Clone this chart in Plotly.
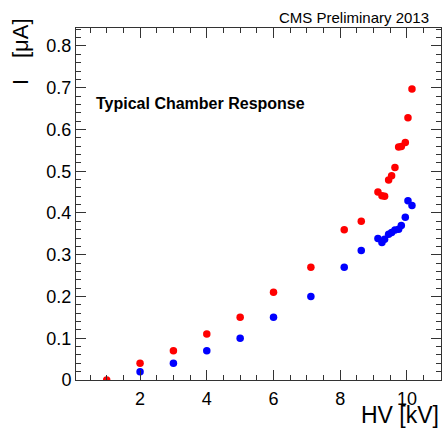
import plotly.graph_objects as go

# Data
hv_red = [1.0, 2.0, 3.0, 4.0, 5.0, 6.0, 7.12, 8.12, 8.63,
          9.13, 9.25, 9.33, 9.45, 9.54, 9.64, 9.75, 9.83, 9.95, 10.03, 10.15]
i_red = [0.0, 0.04, 0.07, 0.11, 0.15, 0.21, 0.27, 0.36, 0.38,
         0.45, 0.441, 0.44, 0.479, 0.489, 0.509, 0.558, 0.559, 0.569, 0.628, 0.697]

hv_blue = [2.0, 3.0, 4.0, 5.0, 6.0, 7.12, 8.12, 8.63,
           9.13, 9.25, 9.33, 9.45, 9.54, 9.64, 9.75, 9.83, 9.95, 10.03, 10.15]
i_blue = [0.02, 0.04, 0.07, 0.10, 0.15, 0.20, 0.27, 0.31,
          0.339, 0.329, 0.337, 0.349, 0.353, 0.359, 0.361, 0.370, 0.39, 0.429, 0.418]

W, H = 442, 428
L, R, T, B = 76, 1, 28, 48
PW, PH = W - L - R, H - T - B

def px(x):
    return (x - L) / PW

def py(y):
    return (H - B - y) / PH

FONT = "Liberation Sans, Arial, sans-serif"
AX = "#333333"

fig = go.Figure()
fig.add_trace(go.Scatter(x=hv_blue, y=i_blue, mode="markers",
                         marker=dict(color="#0000ff", size=7.5, line=dict(width=0)),
                         showlegend=False))
fig.add_trace(go.Scatter(x=hv_red, y=i_red, mode="markers",
                         marker=dict(color="#ff0000", size=7.5, line=dict(width=0)),
                         showlegend=False))

axis_common = dict(showgrid=False, zeroline=False, showline=True, linecolor=AX,
                   linewidth=1, ticks="inside", ticklen=10, tickwidth=1,
                   tickcolor=AX, mirror="allticks",
                   tickfont=dict(family=FONT, size=18, color="black"))

fig.update_xaxes(range=[0.08, 11.02], dtick=2, tick0=0, ticklabelstandoff=2,
                 minor=dict(ticks="inside", ticklen=5, dtick=0.5, tick0=0,
                            tickcolor=AX, tickwidth=1),
                 **axis_common)
fig.update_yaxes(range=[0, 0.843], dtick=0.1, tick0=0,
                 minor=dict(ticks="inside", ticklen=5, dtick=0.02, tick0=0,
                            tickcolor=AX, tickwidth=1),
                 **axis_common)

ann = []
ann.append(dict(text="CMS Preliminary 2013", xref="paper", yref="paper",
                x=px(431), y=py(17), xanchor="right", yanchor="middle",
                showarrow=False, font=dict(family=FONT, size=15, color="black")))
ann.append(dict(text="<b>Typical Chamber Response</b>", xref="paper", yref="paper",
                x=px(94), y=py(103.5), xanchor="left", yanchor="middle",
                showarrow=False, font=dict(family=FONT, size=16, color="black")))
ann.append(dict(text="HV [kV]", xref="paper", yref="paper",
                x=px(441), y=py(415), xanchor="right", yanchor="middle",
                showarrow=False, font=dict(family=FONT, size=23, color="black")))
ann.append(dict(text="I", xref="paper", yref="paper",
                x=px(20), y=py(82), xanchor="center", yanchor="middle",
                textangle=-90, showarrow=False,
                font=dict(family=FONT, size=22, color="black")))
ann.append(dict(text="[μA]", xref="paper", yref="paper",
                x=px(20), y=py(38), xanchor="center", yanchor="middle",
                textangle=-90, showarrow=False,
                font=dict(family=FONT, size=22, color="black")))

fig.update_layout(width=W, height=H, margin=dict(l=L, r=R, t=T, b=B, pad=0),
                  paper_bgcolor="white", plot_bgcolor="white",
                  annotations=ann, font=dict(family=FONT))

fig.write_html("out.html")
